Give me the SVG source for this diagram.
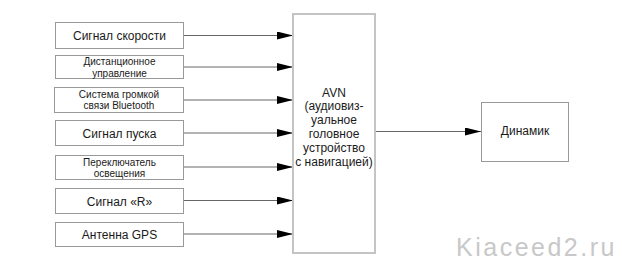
<svg xmlns="http://www.w3.org/2000/svg" width="622" height="268" viewBox="0 0 622 268">
<style>
  .box { fill: #ffffff; stroke: #999999; stroke-width: 1; }
  .main { fill: #ffffff; stroke: #c4c4c4; stroke-width: 2; }
  .t { font-family: "Liberation Sans", Arial, sans-serif; fill: #1a1a1a; text-anchor: middle; }
  .t12 { font-size: 12px; }
  .t10 { font-size: 10px; }
  .conn { stroke: #666666; stroke-width: 1; fill: none; }
  .wm { font-family: "Liberation Sans", Arial, sans-serif; font-size: 25px; fill: #c8c8c8; letter-spacing: 2.5px; }
</style>
<defs>
  <marker id="arr" viewBox="0 0 16 8" refX="16" refY="4" markerWidth="16" markerHeight="8" markerUnits="userSpaceOnUse" orient="auto">
    <path d="M0,0 L16,4 L0,8 Z" fill="#000000"/>
  </marker>
</defs>
<rect width="622" height="268" fill="#ffffff"/>

<g id="connectors">
  <line class="conn" x1="184" y1="35.5" x2="293" y2="35.5" marker-end="url(#arr)"/>
  <line class="conn" x1="184" y1="67" x2="293" y2="67" marker-end="url(#arr)"/>
  <line class="conn" x1="184" y1="100" x2="293" y2="100" marker-end="url(#arr)"/>
  <line class="conn" x1="184" y1="133" x2="293" y2="133" marker-end="url(#arr)"/>
  <line class="conn" x1="184" y1="167" x2="293" y2="167" marker-end="url(#arr)"/>
  <line class="conn" x1="184" y1="200.5" x2="293" y2="200.5" marker-end="url(#arr)"/>
  <line class="conn" x1="184" y1="234" x2="293" y2="234" marker-end="url(#arr)"/>
  <line class="conn" x1="375" y1="131.5" x2="481" y2="131.5" marker-end="url(#arr)"/>
</g>

<g id="n1">
  <rect class="box" x="55.5" y="22.5" width="128" height="26"/>
  <text class="t t12" x="119.5" y="40">Сигнал скорости</text>
</g>
<g id="n2">
  <rect class="box" x="55.5" y="55.5" width="128" height="23"/>
  <text class="t t10" x="119.5" y="65.2">Дистанционное</text>
  <text class="t t10" x="119.5" y="76.5">управление</text>
</g>
<g id="n3">
  <rect class="box" x="54.5" y="87.5" width="129" height="25"/>
  <text class="t t10" x="119" y="97.5">Система громкой</text>
  <text class="t t10" x="119" y="108.8">связи Bluetooth</text>
</g>
<g id="n4">
  <rect class="box" x="55.5" y="120.5" width="128" height="25"/>
  <text class="t t12" x="119.5" y="137.5">Сигнал пуска</text>
</g>
<g id="n5">
  <rect class="box" x="55.5" y="155.5" width="128" height="24"/>
  <text class="t t10" x="119.5" y="165.5">Переключатель</text>
  <text class="t t10" x="119.5" y="176.8">освещения</text>
</g>
<g id="n6">
  <rect class="box" x="55.5" y="188.5" width="128" height="25"/>
  <text class="t t12" x="119.5" y="205.5">Сигнал «R»</text>
</g>
<g id="n7">
  <rect class="box" x="55.5" y="222.5" width="128" height="24"/>
  <text class="t t12" x="119.5" y="239">Антенна GPS</text>
</g>

<g id="avn">
  <rect class="main" x="293" y="14" width="82" height="239"/>
  <text class="t t12" x="334" y="96.5">AVN</text>
  <text class="t t12" x="334" y="110.3">(аудиовиз-</text>
  <text class="t t12" x="334" y="124.1">уальное</text>
  <text class="t t12" x="334" y="137.9">головное</text>
  <text class="t t12" x="334" y="151.7">устройство</text>
  <text class="t t12" x="334" y="165.5">с навигацией)</text>
</g>

<g id="speaker">
  <rect class="box" x="481.5" y="102.5" width="87" height="59"/>
  <text class="t" style="font-size:12px" x="525" y="134.5">Динамик</text>
</g>

<text class="wm" x="456" y="256">Kiaceed2.ru</text>
</svg>
